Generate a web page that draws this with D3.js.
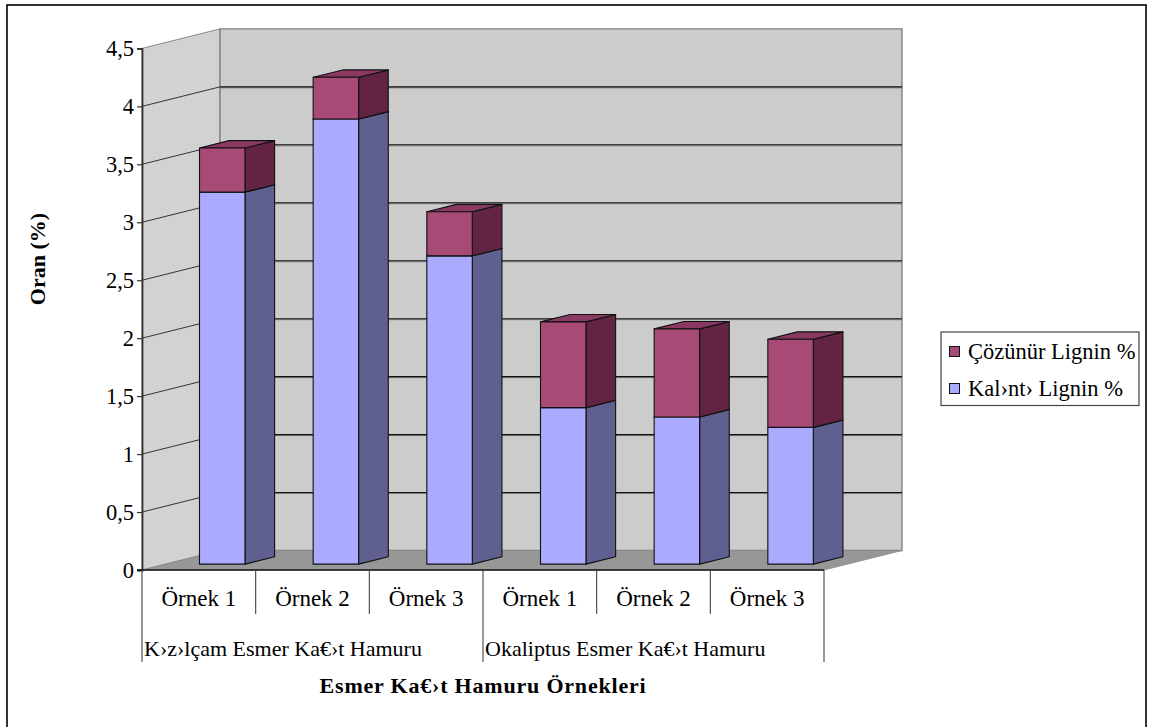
<!DOCTYPE html>
<html>
<head>
<meta charset="utf-8">
<script src="https://cdn.jsdelivr.net/npm/d3@7/dist/d3.min.js"></script>
<style>
  html, body { margin: 0; padding: 0; background: #fff; }
  svg { display: block; }
  text { font-family: "Liberation Serif", "Times New Roman", serif; fill: #000; }
</style>
</head>
<body>
<svg id="chart" width="1151" height="727"></svg>
<script>
// Sample names along the category axis, and the pulp type each group of three belongs to
const categories = ["Örnek 1", "Örnek 2", "Örnek 3", "Örnek 1", "Örnek 2", "Örnek 3"];
const groups = ["K›z›lçam Esmer Ka€›t Hamuru", "Okaliptus Esmer Ka€›t Hamuru"];
const groupSize = 3;

// Lignin shares (%), stacked bottom to top
const kalintiLignin = [3.21, 3.84, 2.66, 1.35, 1.27, 1.18];
const cozunurLignin = [0.38, 0.36, 0.38, 0.74, 0.76, 0.76];
const seriesNames = ["Kal›nt› Lignin %", "Çözünür Lignin %"];

// Value axis ticks
const yTicks = [0, 0.5, 1, 1.5, 2, 2.5, 3, 3.5, 4, 4.5];
const yMax = 4.5;

const svg = d3.select("#chart");

// Plot frame (front plane) and depth offset of the 3D box
const plotLeft = 142, plotRight = 824, plotBottom = 570, plotTop = 48.4;
const depthX = 78, depthY = -19.5;
const barDepth0 = 0.3, barDepth1 = 0.68;

const x = d3.scaleBand()
  .domain(d3.range(categories.length))
  .range([plotLeft, plotRight])
  .paddingInner(0.6)
  .paddingOuter(0.3);
const y = d3.scaleLinear().domain([0, yMax]).range([plotBottom, plotTop]);

// project a point (screen x on front plane, value, depth fraction)
const P = (px, v, d) => [px + depthX * d, y(v) + depthY * d];
const poly = pts => "M" + pts.map(p => p.join(",")).join("L") + "Z";

// outer frame
svg.append("rect")
  .attr("x", 7).attr("y", 5).attr("width", 1139).attr("height", 740)
  .attr("fill", "#fff").attr("stroke", "#000").attr("stroke-width", 1.6);

const step = x.step();

// side wall
svg.append("path")
  .attr("d", poly([P(plotLeft, 0, 0), P(plotLeft, yMax, 0), P(plotLeft, yMax, 1), P(plotLeft, 0, 1)]))
  .attr("fill", "#d2d2d2").attr("stroke", "#8a8a8a").attr("stroke-width", 1);
// back wall
svg.append("path")
  .attr("d", poly([P(plotLeft, 0, 1), P(plotLeft, yMax, 1), P(plotRight, yMax, 1), P(plotRight, 0, 1)]))
  .attr("fill", "#cccccc").attr("stroke", "#808080").attr("stroke-width", 1.4);
// floor
svg.append("path")
  .attr("d", poly([P(plotLeft, 0, 0), P(plotRight, 0, 0), P(plotRight, 0, 1), P(plotLeft, 0, 1)]))
  .attr("fill", "#979797").attr("stroke", "#8a8a8a").attr("stroke-width", 0.8);

// gridlines on back wall and side wall
const gridVals = yTicks.filter(v => v > 0 && v < yMax);
const grid = svg.append("g");
gridVals.forEach(v => {
  const a = P(plotLeft, v, 1), b = P(plotRight, v, 1), c = P(plotLeft, v, 0);
  grid.append("line")
    .attr("x1", a[0]).attr("y1", a[1] + 1).attr("x2", b[0]).attr("y2", b[1] + 1)
    .attr("stroke", "#7a7a7a").attr("stroke-width", 1);
  grid.append("line")
    .attr("x1", a[0]).attr("y1", a[1]).attr("x2", b[0]).attr("y2", b[1])
    .attr("stroke", "#111").attr("stroke-width", 1.1);
  grid.append("line")
    .attr("x1", c[0]).attr("y1", c[1]).attr("x2", a[0]).attr("y2", a[1])
    .attr("stroke", "#333").attr("stroke-width", 1);
});

// stacked 3D bars
const stackData = categories.map((c, i) => ({ i, k: kalintiLignin[i], c: cozunurLignin[i] }));
const series = d3.stack().keys(["k", "c"])(stackData);
const palette = [
  { front: "#aaaaff", side: "#606090", top: "#8585c8" },
  { front: "#a84a76", side: "#622442", top: "#8a3a62" }
];
const bars = svg.append("g");
stackData.forEach((d, i) => {
  const x0 = x(i), x1 = x(i) + x.bandwidth();
  series.forEach((s, si) => {
    const v0 = s[i][0], v1 = s[i][1];
    const col = palette[si];
    const g = bars.append("g").attr("stroke", "#111").attr("stroke-width", 1.1).attr("stroke-linejoin", "round");
    // right side face
    g.append("path")
      .attr("d", poly([P(x1, v0, barDepth0), P(x1, v1, barDepth0), P(x1, v1, barDepth1), P(x1, v0, barDepth1)]))
      .attr("fill", col.side);
    // top face
    g.append("path")
      .attr("d", poly([P(x0, v1, barDepth0), P(x1, v1, barDepth0), P(x1, v1, barDepth1), P(x0, v1, barDepth1)]))
      .attr("fill", col.top);
    // front face
    g.append("path")
      .attr("d", poly([P(x0, v0, barDepth0), P(x1, v0, barDepth0), P(x1, v1, barDepth0), P(x0, v1, barDepth0)]))
      .attr("fill", col.front);
  });
});

// value axis
const yAxis = d3.axisLeft(y)
  .tickValues(yTicks)
  .tickSize(5)
  .tickPadding(3)
  .tickFormat(d => String(d).replace(".", ","));
const ya = svg.append("g").attr("transform", `translate(${plotLeft},0)`).call(yAxis);
ya.select(".domain").attr("stroke", "#333").attr("stroke-width", 1.8);
ya.selectAll(".tick line").attr("stroke", "#333").attr("stroke-width", 1.2);
ya.selectAll(".tick text")
  .attr("font-family", "Liberation Serif")
  .attr("font-size", 22.5).attr("fill", "#000");

// category axis line
svg.append("line")
  .attr("x1", plotLeft - 5).attr("y1", plotBottom).attr("x2", plotRight).attr("y2", plotBottom)
  .attr("stroke", "#111").attr("stroke-width", 1.4);

// separators between sample labels and between groups
const catAxis = svg.append("g");
d3.range(categories.length + 1).forEach(k => {
  const sx = plotLeft + k * step;
  const isGroup = k % groupSize === 0;
  catAxis.append("line")
    .attr("x1", sx).attr("x2", sx)
    .attr("y1", plotBottom).attr("y2", isGroup ? 662 : 614)
    .attr("stroke", "#444").attr("stroke-width", 1.1);
});
categories.forEach((c, i) => {
  catAxis.append("text")
    .attr("x", plotLeft + (i + 0.5) * step).attr("y", 598)
    .attr("text-anchor", "middle").attr("dominant-baseline", "central")
    .attr("font-size", 23)
    .text(c);
});
groups.forEach((g, gi) => {
  catAxis.append("text")
    .attr("x", plotLeft + gi * groupSize * step + 2).attr("y", 648)
    .attr("dominant-baseline", "central")
    .attr("font-size", 22)
    .text(g);
});

// axis titles
svg.append("text")
  .attr("x", (plotLeft + plotRight) / 2).attr("y", 685)
  .attr("text-anchor", "middle").attr("dominant-baseline", "central")
  .attr("font-size", 22).attr("font-weight", "bold").attr("letter-spacing", 0.8)
  .text("Esmer Ka€›t Hamuru Örnekleri");
svg.append("text")
  .attr("transform", "translate(37,259) rotate(-90)")
  .attr("text-anchor", "middle").attr("dominant-baseline", "central")
  .attr("font-size", 22).attr("font-weight", "bold")
  .text("Oran (%)");

// legend (top series listed first)
const legend = svg.append("g");
legend.append("rect")
  .attr("x", 941).attr("y", 332).attr("width", 198).attr("height", 73.5)
  .attr("fill", "#fff").attr("stroke", "#444").attr("stroke-width", 1.2);
const legendItems = [
  { name: seriesNames[1], color: palette[1].front },
  { name: seriesNames[0], color: palette[0].front }
];
legendItems.forEach((it, j) => {
  const cy = 351 + j * 37;
  legend.append("rect")
    .attr("x", 949.5).attr("y", cy - 4.5).attr("width", 10).attr("height", 10)
    .attr("fill", it.color).attr("stroke", "#111").attr("stroke-width", 1);
  legend.append("text")
    .attr("x", 968).attr("y", cy).attr("dominant-baseline", "central")
    .attr("font-size", 22.5)
    .text(it.name);
});
</script>
</body>
</html>
